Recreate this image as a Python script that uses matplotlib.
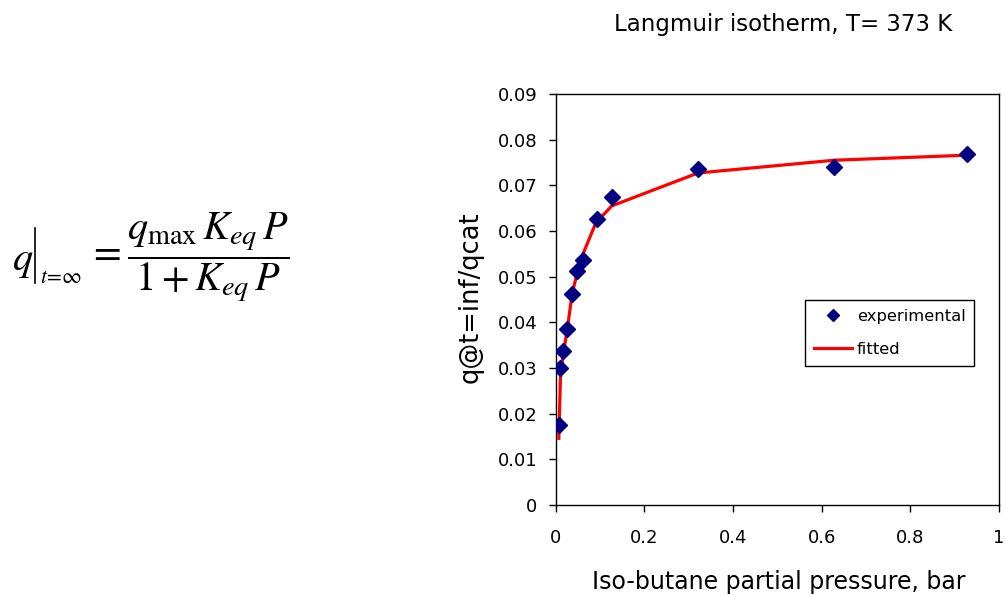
import matplotlib
matplotlib.use("Agg")
import matplotlib.pyplot as plt
from matplotlib.lines import Line2D

plt.rcParams['font.family'] = ['DejaVu Sans']
plt.rcParams['mathtext.fontset'] = 'stix'

# Experimental uptake at equilibrium
exp_p = [0.0075, 0.011, 0.018, 0.027, 0.038, 0.049, 0.061, 0.093, 0.128, 0.321, 0.629, 0.928]
exp_q = [0.0175, 0.0299, 0.0338, 0.0386, 0.0463, 0.0513, 0.0537, 0.0627, 0.0675, 0.0736, 0.0740, 0.0769]

# Langmuir fit evaluated at the measured pressures
fit_p = [0.0075, 0.011, 0.017, 0.026, 0.037, 0.048, 0.060, 0.091, 0.127, 0.321, 0.629, 0.928]
fit_q = [0.0146, 0.0275, 0.0330, 0.0380, 0.0460, 0.0505, 0.0545, 0.0618, 0.0655, 0.0727, 0.0755, 0.0766]

x_ticks = [0, 0.2, 0.4, 0.6, 0.8, 1]
x_labels = ['0', '0.2', '0.4', '0.6', '0.8', '1']
y_ticks = [0, 0.01, 0.02, 0.03, 0.04, 0.05, 0.06, 0.07, 0.08, 0.09]
y_labels = ['0', '0.01', '0.02', '0.03', '0.04', '0.05', '0.06', '0.07', '0.08', '0.09']

W, H = 1006, 595


def fx(x):
    return x / W


def fy(y):
    return 1 - y / H


fig = plt.figure(figsize=(W / 100, H / 100), dpi=100)
ax_l, ax_r, ax_t, ax_b = 555.5, 999.0, 94.0, 505.0
ax = fig.add_axes([fx(ax_l), fy(ax_b), (ax_r - ax_l) / W, (ax_b - ax_t) / H])

ax.plot(fit_p, fit_q, color='#ff0000', lw=2.3, label='fitted', zorder=2)
ax.plot(exp_p, exp_q, linestyle='none', marker='D', ms=8.6, color='#000080',
        label='experimental', zorder=3)

ax.set_xlim(0, 1)
ax.set_ylim(0, 0.09)
ax.set_xticks(x_ticks)
ax.set_xticklabels(x_labels)
ax.set_yticks(y_ticks)
ax.set_yticklabels(y_labels)
ax.tick_params(direction='out', length=5, width=1, labelsize=13)
ax.tick_params(axis='x', pad=12)
ax.tick_params(axis='y', pad=8)
for s in ax.spines.values():
    s.set_linewidth(1)

ax.set_xlabel('Iso-butane partial pressure, bar', fontsize=17, va='baseline', ha='center')
ax.xaxis.set_label_coords((779 - ax_l) / (ax_r - ax_l), (ax_b - 589) / (ax_b - ax_t))
ax.set_ylabel('q@t=inf/qcat', fontsize=18.5, va='center', ha='center')
ax.yaxis.set_label_coords((471 - ax_l) / (ax_r - ax_l), (ax_b - 297) / (ax_b - ax_t))

fig.text(fx(783), fy(31.5), 'Langmuir isotherm, T= 373 K', fontsize=16.5,
         ha='center', va='baseline')

handles, labels = ax.get_legend_handles_labels()
leg = ax.legend(handles[::-1], labels[::-1], loc='upper left',
                bbox_to_anchor=((805 - ax_l) / (ax_r - ax_l), (ax_b - 300) / (ax_b - ax_t)),
                borderaxespad=0, fontsize=11.8, frameon=True, fancybox=False,
                framealpha=1, edgecolor='black', handlelength=2.3, handletextpad=0.3,
                borderpad=0.55, labelspacing=1.1, markerscale=0.75)
leg.get_frame().set_linewidth(1)

# Langmuir expression: q evaluated at t = infinity
fs = 29
fig.text(fx(12), fy(270), r'$q$', fontsize=fs, ha='left', va='baseline')
fig.add_artist(Line2D([fx(35), fx(35)], [fy(228), fy(283)], color='black', lw=1.2,
                      transform=fig.transFigure))
fig.text(fx(40), fy(283), r'$t\!=\!\infty$', fontsize=15.5, ha='left', va='baseline')
fig.text(fx(88), fy(258),
         r'$=\dfrac{q_{\max}\,K_{eq}\,P}{1+K_{eq}\,P}$',
         fontsize=fs, ha='left', va='center')

fig.savefig('out.png', dpi=100)
